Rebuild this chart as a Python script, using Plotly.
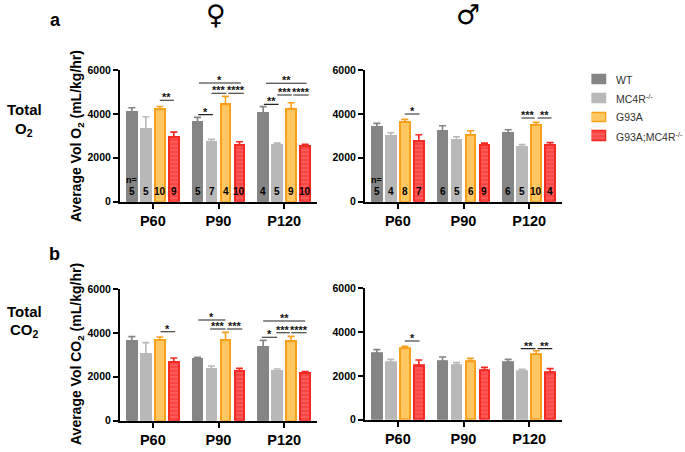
import plotly.graph_objects as go

W, H = 685, 452
FONT = "Liberation Sans"

genotypes = ["WT", "MC4R<sup>-/-</sup>", "G93A", "G93A;MC4R<sup>-/-</sup>"]
ages = ["P60", "P90", "P120"]
age_pos = [0, 1, 2]

# means, by genotype, each [P60, P90, P120]
o2_f = [[4100, 3615, 4025], [3310, 2700, 2570], [4207, 4435, 4240], [2930, 2580, 2550]]
o2_f_top = [[4280, 3840, 4330], [3870, 2840, 2670], [4340, 4800, 4510], [3170, 2730, 2620]]
o2_m = [[3400, 3220, 3115], [2990, 2825, 2475], [3630, 3040, 3490], [2780, 2570, 2600]]
o2_m_top = [[3570, 3460, 3280], [3140, 2960, 2600], [3750, 3235, 3615], [3050, 2670, 2700]]
co2_f = [[3645, 2795, 3355], [3020, 2370, 2265], [3690, 3660, 3615], [2670, 2265, 2170]]
co2_f_top = [[3830, 2885, 3660], [3555, 2490, 2355], [3810, 4025, 3840], [2855, 2385, 2240]]
co2_m = [[3030, 2665, 2620], [2605, 2500, 2210], [3260, 2680, 3000], [2470, 2270, 2180]]
co2_m_top = [[3200, 2860, 2755], [2755, 2605, 2300], [3350, 2800, 3150], [2725, 2390, 2330]]

# sample sizes, by genotype, each [P60, P90, P120]
n_f = [[5, 5, 4], [5, 7, 5], [10, 4, 9], [9, 10, 10]]
n_m = [[5, 6, 6], [4, 5, 5], [8, 6, 10], [7, 9, 4]]

# significance brackets: age index, from-bar, to-bar, level, label
sig_o2_f = [(0, 2, 3, 4620, "**"), (1, 0.1, 3.1, 5410, "*"), (1, 0.05, 1.1, 3965, "*"),
            (1, 1, 2.05, 4940, "***"), (1, 2.2, 3.3, 4940, "****"),
            (2, 0.05, 1.1, 4435, "**"), (2, 1, 2.05, 4860, "***"),
            (2, 2.15, 3.25, 4860, "****"), (2, 0.2, 3.1, 5395, "**")]
sig_o2_m = [(0, 2, 3.05, 3995, "*"), (2, 0.95, 1.9, 3810, "***"), (2, 2.1, 3.1, 3810, "**")]
sig_co2_f = [(0, 2.05, 3.1, 4055, "*"), (1, 0.05, 2, 4590, "*"), (1, 0.9, 2, 4177, "***"),
             (1, 2.1, 3.2, 4177, "***"), (2, 0, 3, 4540, "**"), (2, -0.1, 1, 3800, "*"),
             (2, 0.95, 1.9, 4010, "***"), (2, 2, 3.1, 4010, "****")]
sig_co2_m = [(0, 2, 3.05, 3595, "*"), (2, 0.9, 1.95, 3245, "**"), (2, 2.1, 3.15, 3245, "**")]

fills = ["#858585", "#b8b8b8", "#ffca66", "#ff5a5a"]
edges = ["#858585", "#b8b8b8", "#f8a01c", "#f42a22"]
pats = ["", "", "x", "-"]
pat_fg = ["#858585", "#b8b8b8", "#fbb040", "#f42a22"]

GROUP_PX = 65.7
STEP = 14 / GROUP_PX
BAR_W = 9.4 / GROUP_PX


def slot_x(age, slot):
    return age + (slot - 1.5) * STEP


# panels: values, tops, ns, brackets, x px, y px (top,bottom)
panels = [
    (o2_f, o2_f_top, n_f, sig_o2_f, (120, 317), (70, 201.7)),
    (o2_m, o2_m_top, n_m, sig_o2_m, (365, 562), (70, 201.7)),
    (co2_f, co2_f_top, None, sig_co2_f, (120, 317), (289, 420.7)),
    (co2_m, co2_m_top, None, sig_co2_m, (365, 562), (288.3, 419.7)),
]

fig = go.Figure()
layout = dict(
    width=W, height=H, autosize=False, margin=dict(l=0, r=0, t=0, b=0),
    paper_bgcolor="white", plot_bgcolor="white", showlegend=False,
    bargap=0, barmode="overlay", font=dict(family=FONT, color="black"),
)
annots, shapes = [], []

for i, (vals, tops, ns, sigs, xpx, ypx) in enumerate(panels):
    k = i + 1
    xn, yn = f"x{k}", f"y{k}"
    for g in range(4):
        err = [t - v for t, v in zip(tops[g], vals[g])]
        fig.add_trace(go.Bar(
            x=[slot_x(a, g) for a in age_pos], y=vals[g], width=BAR_W,
            xaxis=xn, yaxis=yn, name=genotypes[g],
            marker=dict(color=fills[g], line=dict(color=edges[g], width=2),
                        pattern=dict(shape=pats[g], fgcolor=pat_fg[g], bgcolor=fills[g],
                                     size=3 if g == 2 else 4, solidity=0.3 if g == 2 else 0.4)),
            error_y=dict(type="data", symmetric=False, array=err, arrayminus=[0, 0, 0],
                         color=edges[g], thickness=1.6, width=3.5),
        ))
    layout[f"xaxis{k if k > 1 else ''}"] = dict(
        domain=[xpx[0] / W, xpx[1] / W], range=[-0.5, 2.5], anchor=yn, automargin=False,
        tickmode="array", tickvals=age_pos, ticktext=ages,
        tickfont=dict(family=FONT, size=14.5, weight="bold", color="black"),
        ticks="outside", ticklen=5, tickwidth=2, tickcolor="black",
        showline=True, linewidth=2, linecolor="black", showgrid=False, zeroline=False,
    )
    layout[f"yaxis{k if k > 1 else ''}"] = dict(
        domain=[1 - ypx[1] / H, 1 - ypx[0] / H], range=[0, 6000], anchor=xn, automargin=False,
        tickmode="array", tickvals=[0, 2000, 4000, 6000],
        tickfont=dict(family=FONT, size=10.5, weight="bold", color="black"),
        ticks="outside", ticklen=5, tickwidth=2, tickcolor="black",
        showline=True, linewidth=2, linecolor="black", showgrid=False, zeroline=False,
    )
    for age, a, b, lvl, lab in sigs:
        shapes.append(dict(type="line", xref=xn, yref=yn, x0=slot_x(age, a), x1=slot_x(age, b),
                           y0=lvl, y1=lvl, line=dict(color="#222222", width=1.1)))
        annots.append(dict(xref=xn, yref=yn, x=(slot_x(age, a) + slot_x(age, b)) / 2, y=lvl,
                           text=f"<b>{lab}</b>", showarrow=False, yanchor="middle", yshift=3,
                           font=dict(family=FONT, size=11, color="#111111")))
    if ns:
        for g in range(4):
            for a in age_pos:
                annots.append(dict(xref=xn, yref=yn, x=slot_x(a, g), y=480, text=f"<b>{ns[g][a]}</b>",
                                   showarrow=False, font=dict(family=FONT, size=10, color="black")))
        annots.append(dict(xref=xn, yref=yn, x=slot_x(0, 0), y=1000, text="<b>n=</b>", showarrow=False,
                           font=dict(family=FONT, size=9, color="black")))

# legend drawn as a tiny bar panel so the swatches keep their hatching
for g in range(4):
    fig.add_trace(go.Bar(
        x=[1], y=[g], orientation="h", width=0.5, xaxis="x5", yaxis="y5", name=genotypes[g],
        marker=dict(color=fills[g], line=dict(color=edges[g], width=1.5),
                    pattern=dict(shape=pats[g], fgcolor=pat_fg[g], bgcolor=fills[g],
                                 size=3 if g == 2 else 4, solidity=0.3 if g == 2 else 0.4)),
    ))
    annots.append(dict(xref="paper", yref="y5", x=614 / W, y=g, text=genotypes[g], showarrow=False,
                       xanchor="left", font=dict(family=FONT, size=10.5, color="#333333")))
layout["xaxis5"] = dict(domain=[591.5 / W, 606.5 / W], range=[0, 1], visible=False, anchor="y5", automargin=False)
layout["yaxis5"] = dict(domain=[1 - 145.8 / H, 1 - 70.2 / H], range=[3.5, -0.5], visible=False, anchor="x5", automargin=False)


def page_text(x, y, text, size, family=FONT, angle=0, color="black"):
    annots.append(dict(xref="paper", yref="paper", x=x / W, y=1 - y / H, text=text, showarrow=False,
                       textangle=angle, xanchor="center", yanchor="middle",
                       font=dict(family=family, size=size, color=color)))


page_text(55, 20, "<b>a</b>", 18)
page_text(54, 254, "<b>b</b>", 18)
page_text(24, 109, "<b>Total</b>", 15)
page_text(24, 129, "<b>O<sub>2</sub></b>", 15)
page_text(25, 311, "<b>Total</b>", 15)
page_text(25, 330, "<b>CO<sub>2</sub></b>", 15)
page_text(77, 136, "<b>Average Vol O<sub>2</sub> (mL/kg/hr)</b>", 14, angle=-90)
page_text(77, 354, "<b>Average Vol CO<sub>2</sub> (mL/kg/hr)</b>", 14, angle=-90)
page_text(216, 15, "♀", 27, family="DejaVu Sans")
page_text(468, 15, "♂", 27, family="DejaVu Sans")

layout["annotations"] = annots
layout["shapes"] = shapes
fig.update_layout(**layout)
fig.write_html("out.html", config={"displayModeBar": False},
               post_script="document.body.style.margin='0';")
